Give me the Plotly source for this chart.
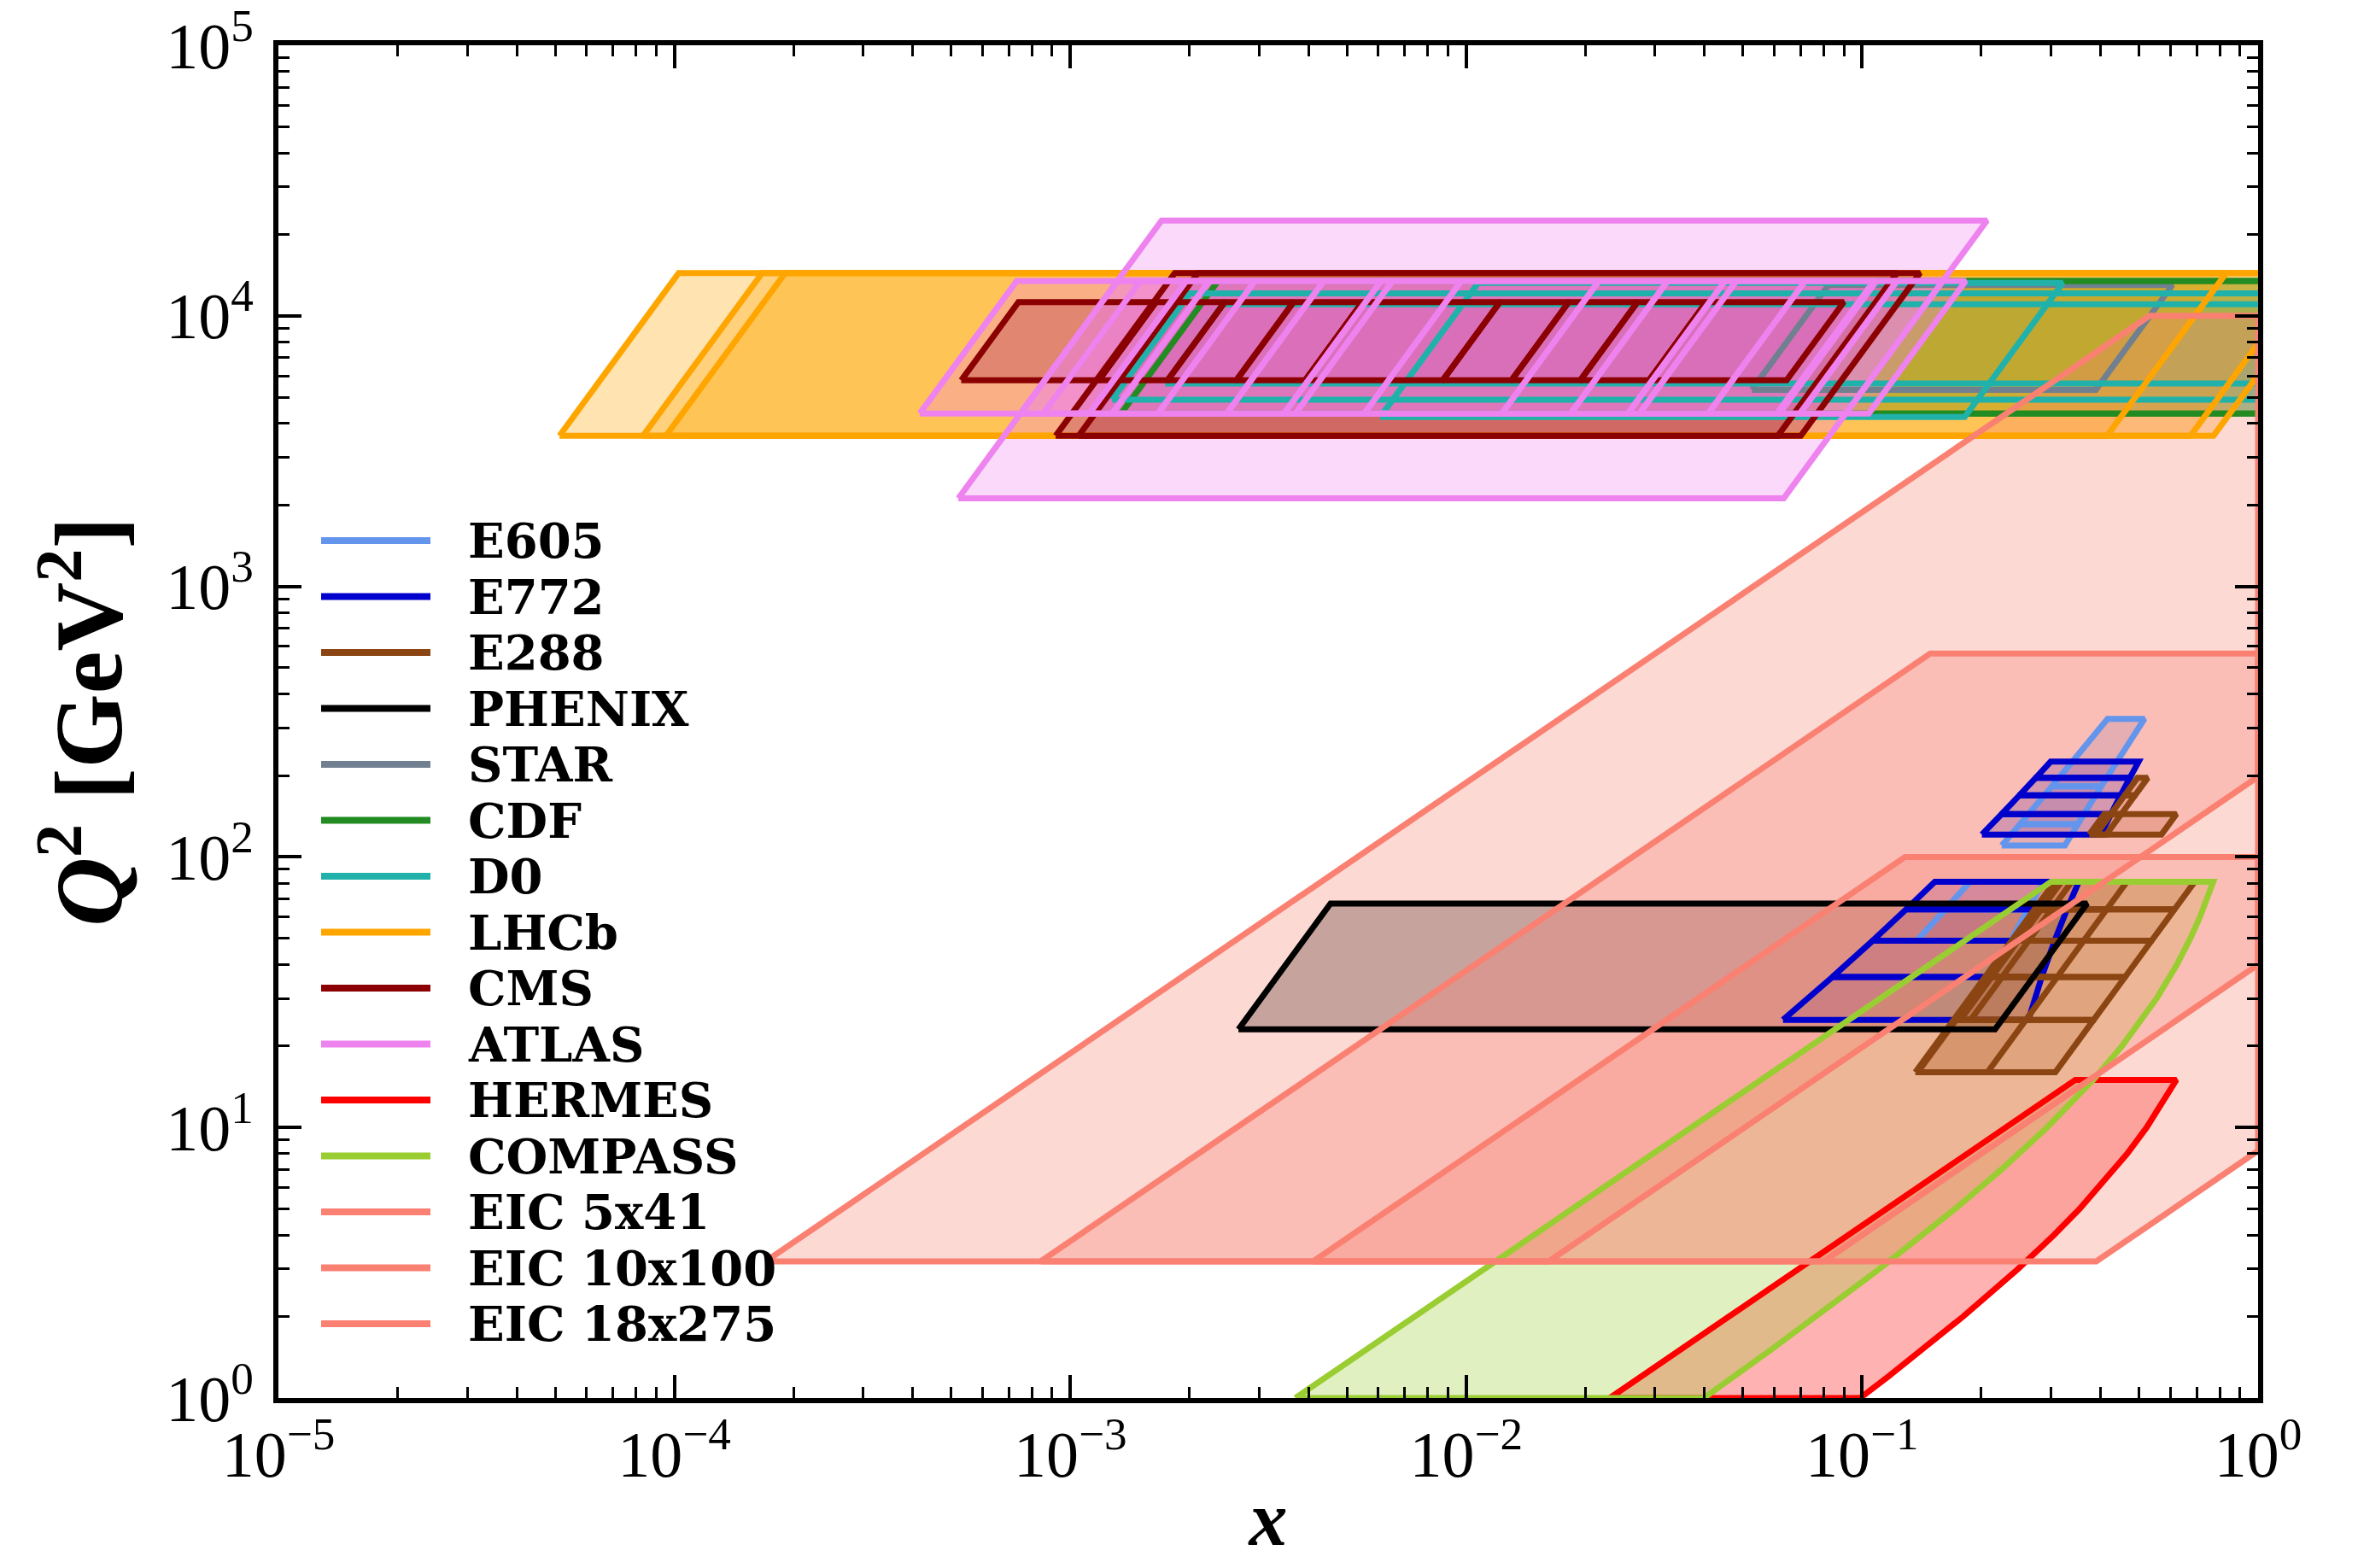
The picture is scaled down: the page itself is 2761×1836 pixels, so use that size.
import plotly.graph_objects as go

# ---------------------------------------------------------------
# Data: kinematic coverage in (x, Q^2).
# A "grid" is (Q^2 edges, x edges at each Q^2 edge); one box is drawn
# between consecutive Q^2 edges and consecutive x edges.
# ---------------------------------------------------------------
E605_GRIDS = [
    ([49, 64, 81], [[0.13721, 0.23721], [0.16216, 0.26216], [0.18729, 0.28729]]),
    ([110.25, 132.25, 182.25, 324],
     [[0.22520, 0.32520], [0.25058, 0.35058], [0.30151, 0.40151], [0.41661, 0.51661]]),
]
E772_GRIDS = [
    ([25, 36, 49, 64, 81],
     [[0.06312, 0.26312], [0.08416, 0.28416], [0.10627, 0.30627], [0.12916, 0.32916], [0.15260, 0.35260]]),
    ([121, 144, 169, 196, 225],
     [[0.20063, 0.40063], [0.22504, 0.42504], [0.24966, 0.44966], [0.27443, 0.47443], [0.29932, 0.49932]]),
]
E288_GRIDS = [
    ([16, 25, 36, 49, 64, 81],
     [[0.13821, 0.30759], [0.17276, 0.38449], [0.20732, 0.46139], [0.24187, 0.53829], [0.27642, 0.61518], [0.31097, 0.69208]]),
    ([16, 25, 36, 49, 64, 81],
     [[0.13623, 0.20734], [0.17029, 0.25918], [0.20435, 0.31101], [0.23841, 0.36285], [0.27246, 0.41468], [0.30652, 0.46652]]),
    ([121, 144], [[0.37464, 0.57019], [0.40870, 0.62202]]),
    ([25, 36, 49, 64, 81],
     [[0.17709, 0.18804], [0.21251, 0.22565], [0.24792, 0.26326], [0.28334, 0.30086], [0.31876, 0.33847]]),
    ([121, 144, 169, 196],
     [[0.38960, 0.41369], [0.42501, 0.45129], [0.46043, 0.48891], [0.49585, 0.52651]]),
]
PHENIX_GRIDS = [([23.04, 67.24], [[2.6593e-3, 0.21660], [4.5429e-3, 0.37003]])]
STAR_GRIDS = [([5329, 12996], [[0.052657, 0.38909], [0.082232, 0.60762]])]
CDF_GRIDS = [
    ([4356, 13456], [[1.3444e-3, 1.0], [2.3630e-3, 1.7576]]),
    ([4356, 13456], [[1.1339e-3, 1.0], [1.9929e-3, 1.7576]]),
]
D0_GRIDS = [
    ([5625, 11025], [[1.7361e-3, 1.0], [2.4306e-3, 1.4]]),
    ([4900, 12100], [[1.2755e-3, 1.0], [2.0044e-3, 1.5714]]),
    ([4225, 13225], [[6.0584e-3, 0.18154], [0.010719, 0.32118]]),
]
LHCB_GRIDS = [
    ([3600, 14400], [[5.1272e-5, 0.41546], [1.0254e-4, 0.83093]]),
    ([3600, 14400], [[8.3318e-5, 0.67513], [1.6664e-4, 1.3503]]),
    ([3600, 14400], [[9.5221e-5, 0.77157], [1.9044e-4, 1.5431]]),
]
CMS_GRIDS = [
    ([3600, 14400], [[9.1842e-4, 0.061246], [1.8368e-3, 0.12249]]),
    ([3600, 14400], [[1.0496e-3, 0.069996], [2.0992e-3, 0.13999]]),
    ([5776, 11236],
     [[5.3035e-4, 1.1803e-3, 1.7608e-3, 2.6268e-3, 3.9188e-3, 8.7214e-3, 0.013011, 0.019410, 0.028956, 0.064443],
      [7.3970e-4, 1.6462e-3, 2.4559e-3, 3.6638e-3, 5.4657e-3, 0.012164, 0.018147, 0.027072, 0.040386, 0.089881]]),
]
ATLAS_GRIDS = [
    ([2116, 22500], [[5.2163e-4, 0.063383], [1.7010e-3, 0.20669]]),
    ([4356, 13456], [[4.1674e-4, 0.061850], [7.3245e-4, 0.10871]]),
    ([4356, 13456],
     [[8.5534e-4, 1.2760e-3, 3.4686e-3, 0.025630, 0.069668, 0.10393],
      [1.5033e-3, 2.2427e-3, 6.0963e-3, 0.045046, 0.12245, 0.18267]]),
    ([4356, 13456],
     [[7.4842e-4, 1.1165e-3, 1.6657e-3, 2.4849e-3, 3.7070e-3, 5.5301e-3, 0.012308, 0.018361,
       0.027391, 0.040863, 0.060960, 0.090941],
      [1.3154e-3, 1.9624e-3, 2.9275e-3, 4.3673e-3, 6.5153e-3, 9.7196e-3, 0.021632, 0.032270,
       0.048142, 0.071819, 0.10714, 0.15984]]),
]
# SIDIS regions (polygons, boundary points)
HERMES_X = [0.02304, 0.3456, 0.62189, 0.56818, 0.52301, 0.46729, 0.39683, 0.35411,
            0.30488, 0.24752, 0.17986, 0.14124, 0.11628, 0.09881, 0.02304]
HERMES_Q2 = [1, 15, 15, 12, 10, 8, 6, 5, 4, 3, 2, 1.5, 1.2, 1, 1]
COMPASS_X = [3.7037e-3, 0.3, 0.77055, 0.74373, 0.71327, 0.67458, 0.62383, 0.55432, 0.45331,
             0.38344, 0.29308, 0.22494, 0.17170, 0.11062, 0.07657, 0.05855, 0.03981, 3.7037e-3]
COMPASS_Q2 = [1, 81, 81, 70, 60, 50, 40, 30, 20, 15, 10, 7, 5, 3, 2, 1.5, 1, 1]
# EIC projections
EIC5_X = [4.1078e-3, 0.39024, 1.0, 1.0, 0.12837, 4.1078e-3]
EIC5_Q2 = [3.2, 3.2, 8.2, 100, 100, 3.2]
EIC10_X = [8.4211e-4, 0.08, 1.0, 1.0, 0.14868, 8.4211e-4]
EIC10_Q2 = [3.2, 3.2, 40, 565, 565, 3.2]
EIC18_X = [1.7012e-4, 0.016162, 1.0, 1.0, 0.53163, 1.7012e-4]
EIC18_Q2 = [3.2, 3.2, 198, 10000, 10000, 3.2]

LABELS = ["E605", "E772", "E288", "PHENIX", "STAR", "CDF", "D0", "LHCb", "CMS", "ATLAS",
          "HERMES", "COMPASS", "EIC 5x41", "EIC 10x100", "EIC 18x275"]
COLORS = ["#6495ED", "#0000CD", "#8B4513", "#000000", "#708090", "#228B22", "#20B2AA",
          "#FFA500", "#8B0000", "#EE82EE", "#FF0000", "#9ACD32", "#FA8072", "#FA8072", "#FA8072"]

X_TICKVALS = [1e-5, 1e-4, 1e-3, 1e-2, 1e-1, 1]
X_TICKTEXT = ["10<sup>−5</sup>", "10<sup>−4</sup>", "10<sup>−3</sup>", "10<sup>−2</sup>",
              "10<sup>−1</sup>", "10<sup>0</sup>"]
Y_TICKVALS = [1, 10, 100, 1e3, 1e4, 1e5]
Y_TICKTEXT = ["10<sup>0</sup>", "10<sup>1</sup>", "10<sup>2</sup>", "10<sup>3</sup>",
              "10<sup>4</sup>", "10<sup>5</sup>"]


def grid_boxes(grids):
    polys = []
    for q2, xe in grids:
        for i in range(len(q2) - 1):
            lo, hi = xe[i], xe[i + 1]
            for j in range(len(lo) - 1):
                xs = [lo[j], lo[j + 1], hi[j + 1], hi[j], lo[j]]
                ys = [q2[i], q2[i], q2[i + 1], q2[i + 1], q2[i]]
                polys.append((xs, ys))
    return polys


POLYS = [
    grid_boxes(E605_GRIDS), grid_boxes(E772_GRIDS), grid_boxes(E288_GRIDS),
    grid_boxes(PHENIX_GRIDS), grid_boxes(STAR_GRIDS), grid_boxes(CDF_GRIDS),
    grid_boxes(D0_GRIDS), grid_boxes(LHCB_GRIDS), grid_boxes(CMS_GRIDS),
    grid_boxes(ATLAS_GRIDS), [(HERMES_X, HERMES_Q2)], [(COMPASS_X, COMPASS_Q2)],
    [(EIC5_X, EIC5_Q2)], [(EIC10_X, EIC10_Q2)], [(EIC18_X, EIC18_Q2)],
]


def rgba(hex_color, a):
    h = hex_color.lstrip("#")
    r, g, b = int(h[0:2], 16), int(h[2:4], 16), int(h[4:6], 16)
    return f"rgba({r},{g},{b},{a})"


fig = go.Figure()

# translucent faces first (below every outline)
for lab, col, polys in zip(LABELS, COLORS, POLYS):
    for xs, ys in polys:
        fig.add_trace(go.Scatter(
            x=xs, y=ys, mode="none", fill="toself", fillcolor=rgba(col, 0.3),
            name=lab, showlegend=False, hoverinfo="skip"))

# opaque outlines on top
for lab, col, polys in zip(LABELS, COLORS, POLYS):
    for xs, ys in polys:
        fig.add_trace(go.Scatter(
            x=xs, y=ys, mode="lines", line=dict(color=col, width=7),
            name=lab, showlegend=False, hoverinfo="skip"))

# Figure is 16 px smaller than the window: the page body adds an 8 px margin.
FIG_W, FIG_H, BODY = 2745, 1820, 8
PLOT_L, PLOT_R, PLOT_T, PLOT_B = 326 - BODY, 2644 - BODY, 53 - BODY, 1637 - BODY


def px_to_paper(px, py):
    # px, py: window pixel positions of the reference
    return (px - BODY - PLOT_L) / (PLOT_R - PLOT_L), (PLOT_B - (py - BODY)) / (PLOT_B - PLOT_T)


# legend (drawn in paper coordinates to match the reference spacing)
shapes, annotations = [], []
for i, (lab, col) in enumerate(zip(LABELS, COLORS)):
    yy = 633 + 65.5 * i
    x0, y0 = px_to_paper(376, yy)
    x1, _ = px_to_paper(504, yy)
    xt, _ = px_to_paper(546, yy)
    shapes.append(dict(type="line", xref="paper", yref="paper", x0=x0, x1=x1, y0=y0, y1=y0,
                       line=dict(color=col, width=8), layer="above"))
    annotations.append(dict(xref="paper", yref="paper", x=xt, y=y0, xanchor="left",
                            yanchor="middle", text=lab, showarrow=False,
                            font=dict(family="DejaVu Serif", size=56, color="black",
                                      weight="bold")))

minor_x = [m * 10.0 ** e for e in range(-5, 0) for m in range(2, 10)]
minor_y = [m * 10.0 ** e for e in range(0, 5) for m in range(2, 10)]

tickfont = dict(family="Liberation Serif", size=76, color="black")
axis_common = dict(
    type="log", ticks="inside", ticklen=27, tickwidth=4, tickcolor="black",
    showline=True, linecolor="black", linewidth=6, mirror="ticks",
    showgrid=False, zeroline=False, tickfont=tickfont, ticklabeloverflow="allow",
    automargin=False,
)

fig.update_layout(
    width=FIG_W, height=FIG_H,
    margin=dict(l=PLOT_L, r=FIG_W - PLOT_R, t=PLOT_T, b=FIG_H - PLOT_B, pad=0,
                autoexpand=False),
    paper_bgcolor="white", plot_bgcolor="white",
    showlegend=False,
    shapes=shapes, annotations=annotations,
    xaxis=dict(
        range=[-5, 0], tickmode="array", tickvals=X_TICKVALS, ticktext=X_TICKTEXT,
        minor=dict(tickmode="array", tickvals=minor_x, ticks="inside", ticklen=13,
                   tickwidth=3, tickcolor="black", showgrid=False),
        title=dict(text="<b><i>x</i></b>",
                   font=dict(family="Liberation Serif", size=90, color="black"), standoff=24),
        ticklabelstandoff=-5,
        **axis_common),
    yaxis=dict(
        range=[0, 5], tickmode="array", tickvals=Y_TICKVALS, ticktext=Y_TICKTEXT,
        minor=dict(tickmode="array", tickvals=minor_y, ticks="inside", ticklen=13,
                   tickwidth=3, tickcolor="black", showgrid=False),
        title=dict(text="<b><i>Q</i><sup>2</sup> [GeV<sup>2</sup>]</b>",
                   font=dict(family="Liberation Serif", size=112, color="black"), standoff=16),
        ticklabelstandoff=8,
        **axis_common),
)

fig.write_html("out.html")
